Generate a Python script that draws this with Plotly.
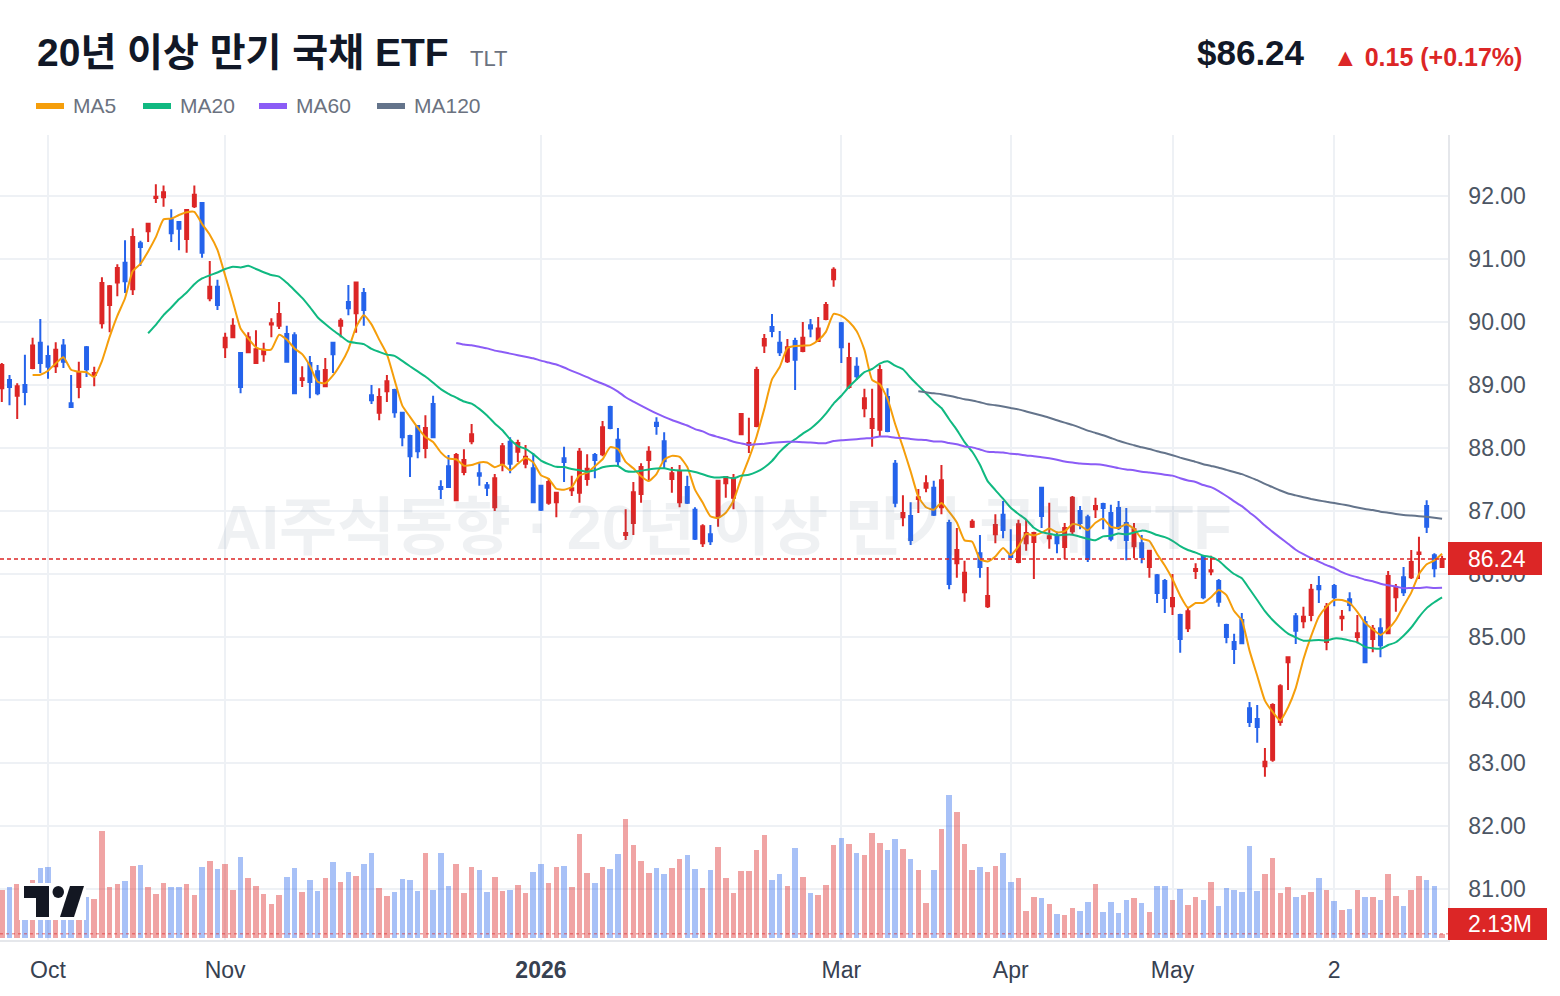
import plotly.graph_objects as go
import pandas as pd

# ---------------- data ----------------
opens = [
    88.95, 89.08, 88.83, 89.00, 89.27, 89.67, 89.46, 89.30, 89.63, 88.71,
    88.97, 89.60, 89.16, 89.98, 90.27, 90.63, 90.94, 90.52, 91.25, 91.44,
    91.97, 91.98, 91.62, 91.59, 91.32, 91.84, 91.89, 90.38, 90.56, 89.60,
    89.76, 89.51, 89.52, 89.35, 89.49, 89.96, 89.94, 89.81, 89.79, 89.08,
    89.35, 89.22, 88.98, 89.67, 89.94, 90.32, 90.14, 90.46, 88.84, 88.56,
    88.90, 88.92, 88.56, 88.19, 88.35, 88.00, 88.70, 87.38, 87.71, 87.17,
    87.62, 88.11, 87.60, 87.41, 87.06, 87.75, 88.10, 87.94, 87.75, 87.68,
    87.40, 87.13, 87.14, 87.84, 87.33, 87.29, 87.51, 87.89, 87.90, 88.65,
    88.13, 86.62, 86.81, 87.27, 87.81, 88.40, 88.11, 87.51, 87.14, 87.38,
    87.02, 86.49, 86.63, 86.92, 87.44, 87.21, 88.22, 88.05, 88.35, 89.63,
    89.92, 89.67, 89.38, 89.70, 89.54, 89.95, 89.70, 90.05, 90.68, 89.98,
    88.97, 89.29, 88.63, 88.32, 88.29, 88.81, 87.75, 86.90, 86.92, 87.19,
    87.37, 87.37, 87.06, 86.81, 86.17, 85.71, 86.75, 86.33, 85.49, 86.63,
    86.94, 86.30, 86.19, 86.49, 86.51, 87.37, 86.57, 86.59, 86.43, 86.68,
    87.00, 86.90, 87.03, 87.11, 86.97, 87.05, 86.81, 86.44, 86.49, 86.11,
    85.98, 85.89, 85.49, 85.35, 85.14, 86.05, 86.27, 86.04, 85.89, 85.19,
    84.92, 85.27, 83.87, 83.70, 82.95, 83.05, 83.65, 84.60, 85.33, 85.25,
    85.35, 85.81, 84.92, 85.81, 85.30, 85.60, 85.00, 85.24, 84.97, 85.14,
    85.06, 85.63, 85.95, 85.95, 86.32, 87.08, 86.30, 86.11,
]
highs = [
    89.35, 89.16, 89.03, 89.48, 89.75, 90.05, 89.63, 89.68, 89.73, 89.16,
    89.37, 89.62, 89.29, 90.71, 90.59, 90.92, 91.30, 91.49, 91.29, 91.56,
    92.19, 92.17, 91.79, 91.60, 91.79, 92.17, 91.89, 90.97, 90.67, 89.83,
    90.06, 89.52, 89.84, 89.87, 89.67, 90.06, 90.32, 89.94, 89.84, 89.30,
    89.46, 89.32, 89.43, 89.67, 90.06, 90.59, 90.63, 90.54, 89.00, 88.95,
    89.16, 88.94, 88.56, 88.21, 88.35, 88.52, 88.83, 87.49, 87.89, 87.92,
    87.98, 88.38, 87.76, 87.46, 87.59, 88.08, 88.17, 88.13, 88.05, 87.92,
    87.41, 87.52, 87.30, 88.02, 87.56, 88.00, 87.90, 87.92, 88.43, 88.67,
    88.32, 87.03, 87.46, 87.76, 88.03, 88.49, 88.25, 87.70, 87.73, 87.56,
    87.06, 86.79, 86.78, 87.48, 87.54, 87.59, 88.54, 88.48, 89.29, 89.81,
    90.13, 89.86, 89.73, 89.75, 90.00, 90.05, 90.08, 90.32, 90.87, 90.00,
    89.67, 89.44, 88.94, 88.94, 89.32, 88.95, 87.81, 87.25, 87.14, 87.35,
    87.57, 87.48, 87.73, 86.86, 86.73, 86.21, 86.87, 86.62, 86.11, 86.95,
    87.16, 86.71, 86.86, 86.87, 86.67, 87.38, 87.13, 86.67, 86.81, 87.24,
    87.08, 86.94, 87.21, 87.13, 87.10, 87.16, 87.05, 86.81, 86.62, 86.38,
    86.00, 85.92, 86.00, 85.37, 85.48, 86.17, 86.29, 86.29, 85.92, 85.21,
    85.05, 85.38, 83.97, 83.92, 83.24, 83.95, 84.25, 84.68, 85.38, 85.48,
    85.84, 85.97, 85.54, 85.84, 85.43, 85.71, 85.35, 85.33, 85.19, 85.30,
    86.05, 85.84, 86.11, 86.38, 86.59, 87.17, 86.33, 86.29,
]
lows = [
    88.73, 88.68, 88.46, 88.68, 89.25, 89.19, 89.10, 89.19, 89.27, 88.65,
    88.79, 89.13, 88.98, 89.90, 89.84, 90.41, 90.46, 90.43, 90.89, 91.27,
    91.89, 91.83, 91.27, 91.14, 91.10, 91.81, 91.02, 90.33, 90.19, 89.43,
    89.75, 88.87, 89.51, 89.35, 89.37, 89.76, 89.89, 89.37, 88.86, 88.97,
    88.79, 88.84, 88.97, 89.19, 89.76, 90.11, 89.83, 89.94, 88.70, 88.44,
    88.73, 88.48, 88.03, 87.54, 87.84, 87.84, 88.16, 87.19, 87.38, 87.16,
    87.57, 88.06, 87.40, 87.24, 87.00, 87.63, 87.60, 87.78, 87.68, 87.13,
    87.00, 87.10, 86.90, 87.46, 87.24, 87.13, 87.40, 87.52, 87.87, 88.30,
    87.70, 86.54, 86.62, 87.13, 87.49, 88.21, 87.68, 87.29, 87.06, 87.11,
    86.54, 86.43, 86.46, 86.75, 87.21, 87.03, 88.21, 87.92, 88.33, 89.51,
    89.76, 89.46, 89.35, 88.92, 89.52, 89.76, 89.70, 90.03, 90.56, 89.35,
    88.94, 89.08, 88.49, 88.02, 88.19, 88.25, 87.06, 86.76, 86.46, 86.97,
    87.30, 86.92, 86.95, 85.76, 85.94, 85.56, 86.73, 85.94, 85.46, 86.49,
    86.57, 86.27, 86.17, 86.37, 85.92, 86.73, 86.40, 86.33, 86.24, 86.62,
    86.71, 86.19, 86.89, 86.71, 86.52, 86.70, 86.22, 86.25, 86.17, 85.94,
    85.54, 85.38, 85.35, 84.75, 85.08, 85.92, 85.60, 85.98, 85.48, 84.90,
    84.57, 84.89, 83.57, 83.32, 82.78, 83.02, 83.59, 84.16, 84.89, 85.14,
    85.25, 85.54, 84.79, 85.49, 85.10, 85.41, 84.90, 84.60, 84.76, 84.68,
    85.05, 85.40, 85.65, 85.92, 85.92, 86.65, 85.95, 86.10,
]
closes = [
    89.32, 88.97, 88.98, 88.89, 89.63, 89.35, 89.29, 89.56, 89.37, 88.65,
    89.19, 89.25, 89.19, 90.62, 90.57, 90.86, 90.65, 91.35, 91.19, 91.56,
    91.99, 92.06, 91.41, 91.48, 91.78, 92.02, 91.10, 90.56, 90.27, 89.75,
    89.94, 88.97, 89.76, 89.57, 89.56, 89.98, 90.13, 89.37, 88.87, 89.11,
    89.05, 88.87, 89.24, 89.49, 90.02, 90.22, 90.63, 90.19, 88.76, 88.81,
    89.06, 88.57, 88.17, 87.87, 87.95, 88.32, 88.17, 87.35, 87.38, 87.89,
    87.81, 88.22, 87.56, 87.37, 87.52, 88.03, 87.75, 88.08, 87.86, 87.14,
    87.02, 87.46, 87.29, 87.78, 87.36, 87.94, 87.67, 87.81, 88.33, 88.32,
    87.79, 86.65, 87.30, 87.70, 87.94, 88.35, 87.79, 87.60, 87.62, 87.13,
    86.56, 86.76, 86.52, 87.48, 87.54, 87.52, 88.54, 88.08, 89.24, 89.73,
    89.86, 89.52, 89.60, 89.40, 89.75, 89.90, 89.90, 90.27, 90.83, 89.60,
    89.43, 89.14, 88.79, 88.46, 89.24, 88.27, 87.13, 86.97, 86.54, 87.22,
    87.44, 86.94, 87.49, 85.84, 86.38, 86.02, 86.83, 86.11, 85.65, 86.78,
    86.70, 86.27, 86.79, 86.65, 86.65, 86.92, 86.60, 86.49, 86.73, 87.21,
    86.81, 86.24, 87.08, 87.05, 86.56, 86.73, 86.54, 86.71, 86.27, 86.37,
    85.70, 85.62, 85.62, 84.97, 85.41, 86.08, 85.63, 86.06, 85.56, 85.00,
    84.81, 84.90, 83.65, 83.57, 83.02, 83.92, 84.22, 84.68, 85.10, 85.32,
    85.75, 85.76, 85.48, 85.63, 85.32, 85.51, 85.06, 84.60, 85.13, 84.87,
    85.97, 85.78, 85.71, 86.19, 86.34, 86.75, 86.09, 86.24,
]
volumes = [  # millions of shares
    24.0, 25.5, 27.0, 20.0, 29.0, 35.0, 35.5, 22.5, 20.0, 21.0,
    24.0, 20.5, 19.5, 53.5, 25.5, 27.0, 28.5, 36.0, 36.5, 25.5,
    22.0, 27.5, 25.5, 25.5, 27.0, 21.5, 35.5, 38.5, 34.5, 37.0,
    24.0, 40.5, 30.0, 26.0, 22.0, 17.0, 21.5, 30.5, 35.0, 23.0,
    29.0, 23.5, 30.0, 38.0, 28.0, 33.0, 31.0, 37.0, 42.5, 25.0,
    21.0, 23.0, 29.5, 29.0, 23.5, 42.5, 24.0, 42.5, 26.0, 37.0,
    22.5, 35.5, 34.0, 23.0, 30.5, 23.5, 24.0, 26.5, 22.5, 33.0,
    37.0, 27.5, 35.5, 36.0, 25.5, 52.0, 32.5, 27.5, 35.5, 34.5,
    42.0, 59.5, 46.5, 38.5, 32.5, 35.0, 32.0, 35.0, 39.5, 41.5,
    34.5, 25.0, 34.0, 45.5, 30.0, 22.5, 33.5, 33.5, 44.0, 51.5,
    29.0, 32.0, 26.0, 45.0, 30.5, 22.5, 21.5, 26.5, 46.5, 50.0,
    47.0, 42.5, 41.5, 52.5, 47.5, 44.0, 49.5, 44.5, 39.5, 34.0,
    17.5, 34.0, 54.5, 71.5, 63.0, 47.0, 34.0, 35.5, 33.0, 36.0,
    42.5, 28.0, 30.0, 13.5, 20.5, 20.0, 17.0, 12.0, 11.5, 15.0,
    13.5, 18.0, 27.0, 13.0, 18.0, 12.5, 19.0, 20.0, 17.5, 13.0,
    26.0, 26.0, 19.0, 24.5, 16.5, 20.5, 19.0, 28.0, 16.0, 25.0,
    24.0, 23.0, 46.0, 23.5, 32.0, 40.0, 22.5, 25.5, 20.5, 21.5,
    23.0, 30.0, 24.0, 18.5, 14.0, 14.5, 24.0, 20.5, 20.5, 19.0,
    32.0, 21.0, 16.0, 24.0, 31.0, 29.0, 26.0, 2.13,
]
tick_idx = [6, 29, 70, 109, 131, 152, 173]
tick_text = ["Oct", "Nov", "<b>2026</b>", "Mar", "Apr", "May", "2"]
price_ticks = [81, 82, 83, 84, 85, 86, 87, 88, 89, 90, 91, 92]
ma_windows = [5, 20, 60, 120]
ma_colors = ["#f59e0b", "#10b981", "#8b5cf6", "#64748b"]
ma_names = ["MA5", "MA20", "MA60", "MA120"]

title_text = "20년 이상 만기 국채 ETF"
ticker = "TLT"
last_price = 86.24
change = 0.15
change_pct = 0.17
last_volume_label = "2.13M"
watermark = "AI주식동향 · 20년 이상 만기 국채 ETF"

# ---------------- styling ----------------
RED = "#dc2626"
BLUE = "#2563eb"
GRID = "#eef1f5"
FONT = "Liberation Sans, Arial, Noto Sans CJK KR, sans-serif"
W, H = 1560, 996
ML, MR, MT, MB = 0, 112, 135, 56
PW, PH = W - ML - MR, H - MT - MB


def fx(px):
    return (px - ML) / PW


def fy(py):
    return (H - MB - py) / PH


n = len(closes)
idx = list(range(n))
close_s = pd.Series(closes)

vol_colors = [
    "rgba(220,38,38,0.42)" if c >= o else "rgba(37,99,235,0.40)"
    for o, c in zip(opens, closes)
]

fig = go.Figure()
fig.add_trace(go.Bar(
    x=idx, y=volumes, yaxis="y2", width=0.72,
    marker=dict(color=vol_colors, line=dict(width=0)),
    hoverinfo="skip", showlegend=False,
))
fig.add_trace(go.Candlestick(
    x=idx, open=opens, high=highs, low=lows, close=closes,
    increasing=dict(line=dict(color=RED, width=2), fillcolor=RED),
    decreasing=dict(line=dict(color=BLUE, width=2), fillcolor=BLUE),
    whiskerwidth=0, hoverinfo="skip", showlegend=False,
))
for w, col, nm in zip(ma_windows, ma_colors, ma_names):
    ma = close_s.rolling(w).mean()
    fig.add_trace(go.Scatter(
        x=idx, y=ma, mode="lines", name=nm,
        line=dict(color=col, width=2, shape="spline", smoothing=0.5),
        hoverinfo="skip", showlegend=False,
    ))

shapes = []
annotations = []

# last price dashed line
shapes.append(dict(type="line", xref="paper", yref="y", x0=0, x1=1,
                   y0=last_price, y1=last_price,
                   line=dict(color=RED, width=1.5, dash="4px,3px")))
# last volume dotted line
shapes.append(dict(type="line", xref="paper", yref="y2", x0=0, x1=1,
                   y0=volumes[-1], y1=volumes[-1],
                   line=dict(color="rgba(220,38,38,0.45)", width=1.5, dash="3px,3px")))


# right-side value badges
def badge(y0, y1, x1, text):
    shapes.append(dict(type="rect", xref="paper", yref="paper",
                       x0=fx(1448), x1=fx(x1), y0=fy(y1), y1=fy(y0),
                       fillcolor=RED, line=dict(width=0), layer="above"))
    annotations.append(dict(text=text, xref="paper", yref="paper",
                            x=fx((1448 + x1) / 2 + 2), y=fy((y0 + y1) / 2),
                            xanchor="center", yanchor="middle", showarrow=False,
                            font=dict(size=23, color="white", family=FONT)))


badge(542, 575, 1542, f"{last_price:.2f}")
badge(908, 940, 1547, last_volume_label)

# watermark
annotations.append(dict(text=f"<b>{watermark}</b>", xref="paper", yref="paper",
                        x=fx(724), y=fy(527), xanchor="center", yanchor="middle",
                        showarrow=False,
                        font=dict(size=63, color="rgba(100,116,139,0.10)", family=FONT)))

# header
annotations.append(dict(text=f"<b>{title_text}</b>", xref="paper", yref="paper",
                        x=fx(35), y=fy(53), xanchor="left", yanchor="middle",
                        showarrow=False, font=dict(size=39, color="#111827", family=FONT)))
annotations.append(dict(text=ticker, xref="paper", yref="paper",
                        x=fx(468), y=fy(58), xanchor="left", yanchor="middle",
                        showarrow=False, font=dict(size=22, color="#6b7280", family=FONT)))
annotations.append(dict(text=f"<b>${last_price:.2f}</b>", xref="paper", yref="paper",
                        x=fx(1307), y=fy(53), xanchor="right", yanchor="middle",
                        showarrow=False, font=dict(size=35, color="#111827", family=FONT)))
annotations.append(dict(text=f"<b>▲ {change:.2f} (+{change_pct:.2f}%)</b>", xref="paper", yref="paper",
                        x=fx(1524), y=fy(57), xanchor="right", yanchor="middle",
                        showarrow=False, font=dict(size=25, color=RED, family=FONT)))

# legend
leg_x = [36, 143, 259, 377]
for lx, col, nm in zip(leg_x, ma_colors, ma_names):
    shapes.append(dict(type="rect", xref="paper", yref="paper",
                       x0=fx(lx), x1=fx(lx + 28), y0=fy(109), y1=fy(103),
                       fillcolor=col, line=dict(width=0)))
    annotations.append(dict(text=nm, xref="paper", yref="paper",
                            x=fx(lx + 35), y=fy(106), xanchor="left", yanchor="middle",
                            showarrow=False, font=dict(size=21, color="#6b7280", family=FONT)))


# logo (bottom-left)
def path(points):
    return "M " + " L ".join(f"{fx(px)},{fy(py)}" for px, py in points) + " Z"


shapes.append(dict(type="rect", xref="paper", yref="paper", x0=fx(19), x1=fx(86),
                   y0=fy(920), y1=fy(883), fillcolor="white", line=dict(width=0), layer="above"))
shapes.append(dict(type="path", xref="paper", yref="paper",
                   path=path([(24, 886), (49, 886), (49, 917), (36, 917), (36, 898), (24, 898)]),
                   fillcolor="#131722", line=dict(width=0), layer="above"))
shapes.append(dict(type="circle", xref="paper", yref="paper",
                   x0=fx(52.5), x1=fx(64), y0=fy(898), y1=fy(886),
                   fillcolor="#131722", line=dict(width=0), layer="above"))
shapes.append(dict(type="path", xref="paper", yref="paper",
                   path=path([(70, 886), (84, 886), (74, 917), (60, 917)]),
                   fillcolor="#131722", line=dict(width=0), layer="above"))

fig.update_layout(
    width=W, height=H,
    margin=dict(l=ML, r=MR, t=MT, b=MB, pad=0),
    paper_bgcolor="white", plot_bgcolor="white",
    font=dict(family=FONT),
    showlegend=False, boxgap=0.45, bargap=0,
    hovermode=False,
    xaxis=dict(
        range=[-0.234, 187.77], tickvals=tick_idx, ticktext=tick_text,
        showgrid=True, gridcolor=GRID, gridwidth=1.5, zeroline=False,
        showline=True, linecolor="#e5e7eb", linewidth=1.5,
        ticks="", ticklabelstandoff=9,
        tickfont=dict(size=23, color="#374151", family=FONT),
        rangeslider=dict(visible=False), fixedrange=True,
    ),
    yaxis=dict(
        side="right", range=[80.19, 92.97], tickvals=price_ticks, tickformat=".2f",
        showgrid=True, gridcolor=GRID, gridwidth=1.5, zeroline=False,
        showline=True, linecolor="#e5e7eb", linewidth=1.5,
        ticks="", ticklabelstandoff=14,
        tickfont=dict(size=23, color="#4b5563", family=FONT), fixedrange=True,
    ),
    yaxis2=dict(overlaying="y", range=[-1, 401.5], visible=False, fixedrange=True),
    shapes=shapes, annotations=annotations,
)

fig.write_html("out.html")
